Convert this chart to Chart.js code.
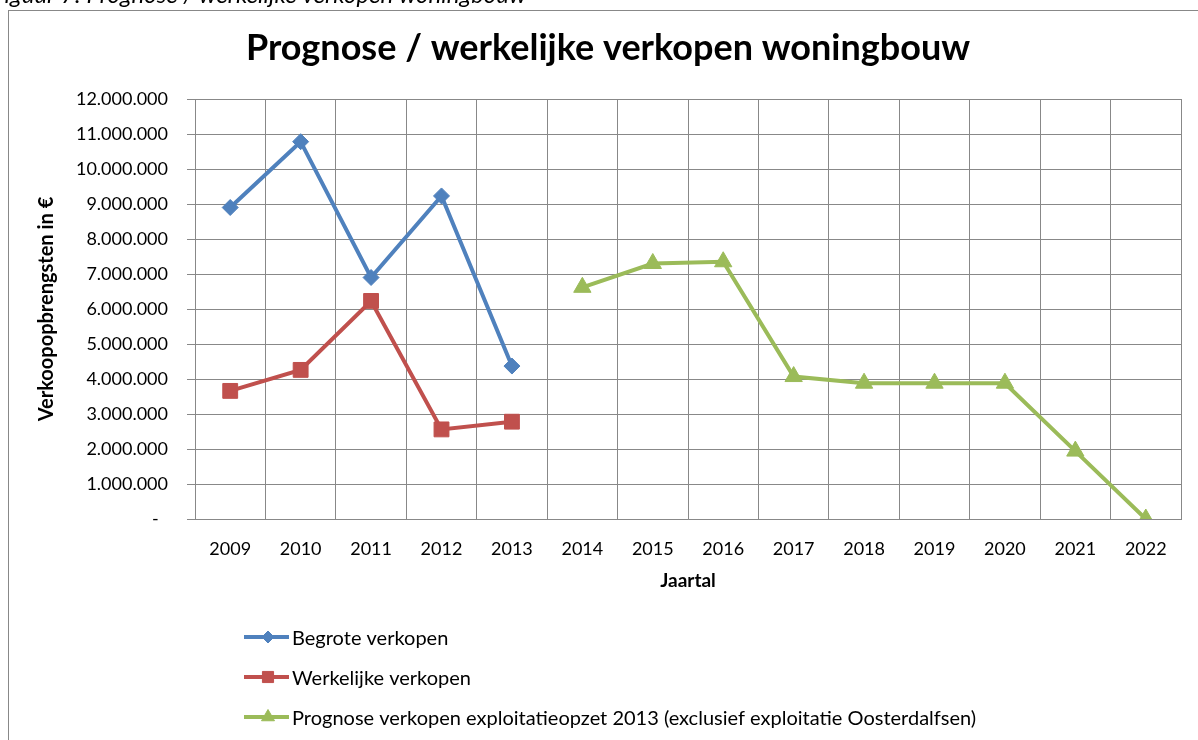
<!DOCTYPE html>
<html>
<head>
<meta charset="utf-8">
<script src="https://cdn.jsdelivr.net/npm/chart.js@4"></script>
<style>
  html, body { margin: 0; padding: 0; background: #fff; overflow: hidden; }
  canvas { display: block; }
</style>
</head>
<body>
<canvas id="chart" width="1198" height="740"></canvas>
<script>
const years = ['2009', '2010', '2011', '2012', '2013', '2014', '2015', '2016', '2017', '2018', '2019', '2020', '2021', '2022'];
const begrote = [8900000, 10780000, 6900000, 9230000, 4370000, null, null, null, null, null, null, null, null, null];
const werkelijke = [3660000, 4260000, 6230000, 2560000, 2780000, null, null, null, null, null, null, null, null, null];
const prognose = [null, null, null, null, null, 6620000, 7300000, 7350000, 4070000, 3880000, 3880000, 3880000, 1940000, 0];
const seriesNames = ['Begrote verkopen', 'Werkelijke verkopen', 'Prognose verkopen exploitatieopzet 2013 (exclusief exploitatie Oosterdalfsen)'];

const GRID = '#888888';
Chart.defaults.font.family = 'Lato';
Chart.defaults.color = '#000';

function fmt(v) {
  if (v === 0) return '-  ';
  return String(v).replace(/\B(?=(\d{3})+(?!\d))/g, '.');
}

function ds(label, data, color, style, radius) {
  return {
    label, data, borderColor: color, backgroundColor: color,
    borderWidth: 4, pointStyle: style, pointRadius: radius, pointHoverRadius: radius,
    pointBackgroundColor: color, pointBorderColor: color, pointBorderWidth: 1,
    spanGaps: false, tension: 0
  };
}

// caption, border, title and legend drawn onto the same canvas
const extras = {
  id: 'extras',
  afterDraw(chart) {
    const ctx = chart.ctx;
    ctx.save();
    ctx.strokeStyle = GRID;
    ctx.lineWidth = 1;
    ctx.strokeRect(8.5, 10.5, 1400, 1000);

    ctx.fillStyle = '#000';
    ctx.font = 'italic 24px Lato';
    ctx.textBaseline = 'alphabetic';
    ctx.textAlign = 'left';
    ctx.fillText('Figuur 7: Prognose / werkelijke verkopen woningbouw', -8, 3);

    ctx.font = 'bold 36px Lato';
    ctx.textAlign = 'center';
    ctx.fillText('Prognose / werkelijke verkopen woningbouw', 608, 60);

    ctx.font = '20px Lato';
    ctx.textAlign = 'left';
    ctx.textBaseline = 'middle';
    chart.data.datasets.forEach((d, i) => {
      const y = 637 + i * 40;
      ctx.strokeStyle = d.borderColor;
      ctx.lineWidth = 4;
      ctx.beginPath();
      ctx.moveTo(244, y);
      ctx.lineTo(289, y);
      ctx.stroke();
      ctx.fillStyle = d.borderColor;
      ctx.strokeStyle = d.borderColor;
      ctx.lineWidth = 1;
      Chart.helpers.drawPoint(ctx, { pointStyle: d.pointStyle, radius: d.pointRadius * 0.75, borderWidth: 1 }, 268, y);
      ctx.fillStyle = '#000';
      ctx.fillText(d.label, 292, y + 2);
    });
    ctx.restore();
  }
};

new Chart(document.getElementById('chart'), {
  type: 'line',
  data: {
    labels: years,
    datasets: [
      ds(seriesNames[0], begrote, '#4F81BD', 'rectRot', 8),
      ds(seriesNames[1], werkelijke, '#C0504D', 'rect', 10.5),
      ds(seriesNames[2], prognose, '#9BBB59', 'triangle', 10)
    ]
  },
  options: {
    responsive: false,
    animation: false,
    layout: { padding: { top: 99, right: 17, left: 0, bottom: 0 } },
    plugins: { legend: { display: false }, tooltip: { enabled: false } },
    scales: {
      x: {
        offset: true,
        grid: { offset: true, color: GRID, drawTicks: false },
        border: { color: GRID },
        ticks: { font: { size: 18 }, padding: 19, maxRotation: 0 },
        title: { display: true, text: 'Jaartal', font: { size: 19, weight: 'bold' }, padding: { top: 0, bottom: 148 } },
        afterFit: s => { s.height = 221; }
      },
      y: {
        min: 0, max: 12000000,
        grid: { color: GRID, tickLength: 8 },
        border: { color: GRID },
        ticks: { stepSize: 1000000, font: { size: 18 }, padding: 19, callback: v => fmt(v) },
        title: { display: true, text: 'Verkoopopbrengsten in €', font: { size: 20, weight: 'bold' }, padding: { top: 35, bottom: 0 } },
        afterFit: s => { s.width = 195; }
      }
    }
  },
  plugins: [extras]
});
</script>
</body>
</html>
